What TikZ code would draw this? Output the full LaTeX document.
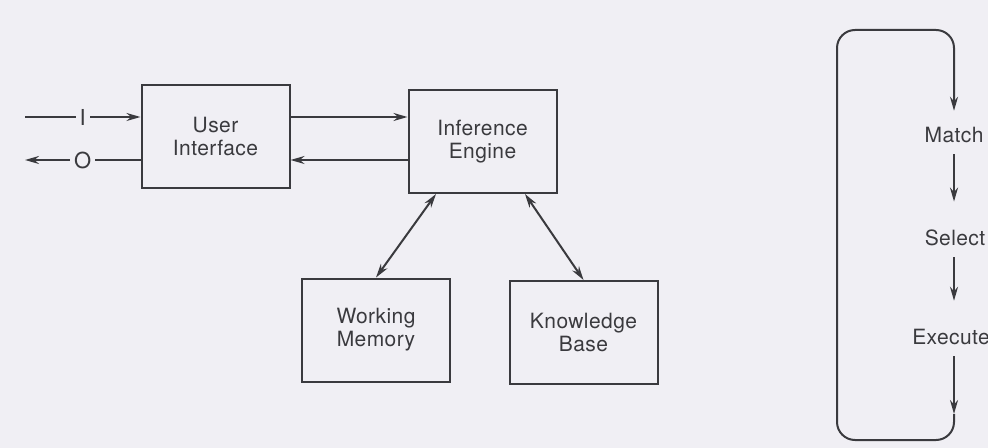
\documentclass[tikz,border=0pt]{standalone}
\usepackage{fontspec}
\setmainfont[LetterSpace=2]{TeX Gyre Heros}
\usepackage{tikz}
\usetikzlibrary{arrows.meta, positioning, calc}
\definecolor{paper}{RGB}{240,239,244}
\definecolor{ink}{RGB}{58,58,62}

\begin{document}
\begin{tikzpicture}[x=0.5pt, y=-0.5pt,
  block/.style={draw=ink, line width=1pt, minimum width=74pt, minimum height=51.5pt,
    align=center, text=ink, font=\fontsize{10.5}{11.5}\selectfont},
  arr/.style={draw=ink, line width=1pt, -{Stealth[length=7pt, width=4pt]}},
  dblarr/.style={draw=ink, line width=1pt, {Stealth[length=7pt, width=4pt]}-{Stealth[length=7pt, width=4pt]}},
  ioword/.style={fill=paper, text=ink, inner sep=2pt, font=\fontsize{11}{12}\selectfont},
  phase/.style={text=ink, inner sep=2pt, font=\fontsize{10.5}{11}\selectfont},
  cyclearrow/.style={arr, shorten <=3.5pt, shorten >=12pt}
]
  % page
  \fill[paper] (0,0) rectangle (988,448);
  \useasboundingbox (0,0) rectangle (988,448);

  % the four blocks
  \node[block] (ui) at (215.5,136.5) {User\\Interface};
  \node[block] (ie) at (482.5,141.5) {Inference\\Engine};
  \node[block] (wm) at (376,330) {Working\\Memory};
  \node[block] (kb) at (583.5,332.5) {Knowledge\\Base};

  % input and output
  \coordinate (iin) at (25,117);
  \coordinate (oout) at (25,160);
  \draw[arr] (iin) -- node[ioword] {I} (iin -| ui.west);
  \draw[arr] (oout -| ui.west) -- node[ioword] {O} (oout);

  \draw[arr] (ui.east |- iin) -- (ie.west |- iin);
  \draw[arr] (ie.west |- oout) -- (ui.east |- oout);
  \draw[dblarr] ([xshift=-23.25pt]ie.south) -- (wm.north);
  \draw[dblarr] ([xshift=21.25pt]ie.south) -- (kb.north);

  % recognize-act cycle
  \node[phase] (match) at (954,135) {Match};
  \node[phase] (select) at (955,238) {Select};
  \node[phase] (execute) at (951,337) {Execute};
  \coordinate (ret) at (954,414);
  \coordinate (cbr) at (954,440);
  \coordinate (cbl) at (837,440);
  \coordinate (ctl) at (837,30);
  \coordinate (ctr) at (954,30);

  \draw[cyclearrow] (match.south -| ret) -- (select.north -| ret);
  \draw[cyclearrow] (select.south -| ret) -- (execute.north -| ret);
  \draw[arr, shorten <=3.5pt] (execute.south -| ret) -- (ret);
  \draw[arr, rounded corners=9pt, shorten >=6pt] (ret) -- (cbr) -- (cbl) -- (ctl) -- (ctr) -- (match.north -| ret);
\end{tikzpicture}
\end{document}
